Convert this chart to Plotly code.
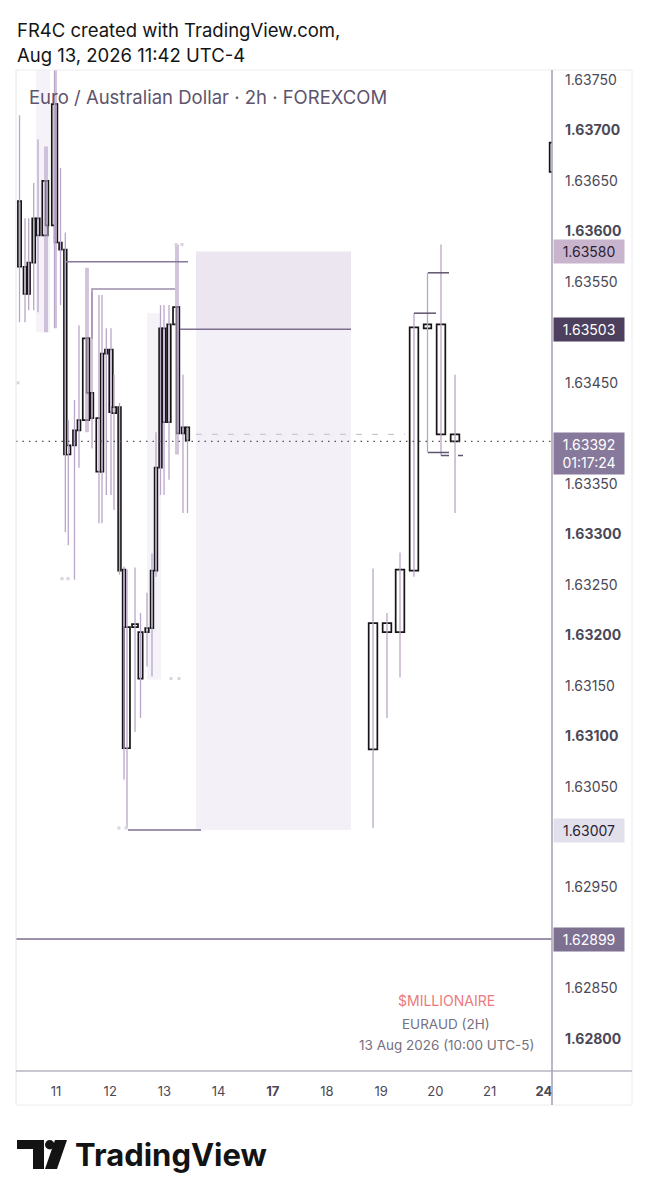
import plotly.graph_objects as go

# ---------------- data ----------------
# x unit: trading-day index (0 = Aug 11, 1 = Aug 12, ... weekend skipped)
day_ticks = [0, 1, 2, 3, 4, 5, 6, 7, 8, 9]
day_labels = ["11", "12", "13", "14", "<b>17</b>", "18", "19", "20", "21", "<b>24</b>"]

candle_x = [-0.673, -0.572, -0.504, -0.411, -0.332, -0.203, -0.166, -0.028, 0.000, 0.083,
            0.172, 0.227, 0.341, 0.424, 0.554, 0.590, 0.664, 0.793, 0.849, 0.928,
            1.015, 1.070, 1.172, 1.255, 1.310, 1.458, 1.559, 1.679, 1.771, 1.845,
            1.928, 1.993, 2.085, 2.214, 2.251, 2.343, 2.426,
            5.849, 6.107, 6.347, 6.605, 6.854, 7.103, 7.362, 9.188]
candle_open = [1.63630, 1.63565, 1.63538, 1.63569, 1.63613, 1.63596, 1.63650, 1.63606, 1.63726, 1.63589,
               1.63582, 1.63379, 1.63388, 1.63403, 1.63413, 1.63494, 1.63440, 1.63415, 1.63362, 1.63479,
               1.63483, 1.63420, 1.63426, 1.63265, 1.63088, 1.63208, 1.63203, 1.63203, 1.63207, 1.63264,
               1.63366, 1.63504, 1.63411, 1.63508, 1.63525, 1.63400, 1.63406,
               1.63087, 1.63212, 1.63203, 1.63264, 1.63504, 1.63508, 1.63399, 1.63659]
candle_close = [1.63565, 1.63538, 1.63569, 1.63613, 1.63596, 1.63650, 1.63606, 1.63726, 1.63589, 1.63582,
                1.63379, 1.63388, 1.63403, 1.63413, 1.63494, 1.63440, 1.63415, 1.63362, 1.63479, 1.63483,
                1.63421, 1.63426, 1.63264, 1.63088, 1.63208, 1.63211, 1.63157, 1.63207, 1.63264, 1.63366,
                1.63504, 1.63411, 1.63508, 1.63525, 1.63400, 1.63406, 1.63393,
                1.63212, 1.63203, 1.63265, 1.63505, 1.63508, 1.63399, 1.63392, 1.63688]
candle_high = [1.63715, 1.63613, 1.63613, 1.63648, 1.63691, 1.63684, 1.63684, 1.63760, 1.63760, 1.63663,
               1.63599, 1.63413, 1.63433, 1.63507, 1.63564, 1.63564, 1.63540, 1.63537, 1.63537, 1.63504,
               1.63504, 1.63458, 1.63430, 1.63268, 1.63265, 1.63267, 1.63222, 1.63242, 1.63281, 1.63401,
               1.63527, 1.63527, 1.63527, 1.63587, 1.63587, 1.63458, 1.63406,
               1.63266, 1.63222, 1.63282, 1.63519, 1.63559, 1.63587, 1.63458, 1.63688]
candle_low = [1.63510, 1.63510, 1.63522, 1.63522, 1.63520, 1.63500, 1.63500, 1.63504, 1.63504, 1.63527,
              1.63302, 1.63289, 1.63255, 1.63366, 1.63401, 1.63401, 1.63385, 1.63311, 1.63311, 1.63339,
              1.63339, 1.63324, 1.63260, 1.63057, 1.63009, 1.63104, 1.63118, 1.63169, 1.63159, 1.63258,
              1.63339, 1.63339, 1.63354, 1.63379, 1.63379, 1.63321, 1.63321,
              1.63009, 1.63118, 1.63158, 1.63258, 1.63381, 1.63378, 1.63321, 1.63659]
candle_w = [0.06, 0.055, 0.05, 0.055, 0.065, 0.10, 0.05, 0.10, 0.05, 0.05,
            0.05, 0.08, 0.055, 0.055, 0.12, 0.05, 0.05, 0.10, 0.05, 0.05,
            0.065, 0.08, 0.05, 0.05, 0.11, 0.11, 0.08, 0.065, 0.05, 0.05,
            0.05, 0.065, 0.065, 0.11, 0.05, 0.05, 0.065,
            0.16, 0.16, 0.16, 0.16, 0.14, 0.16, 0.16, 0.16]

# high / low bracket ticks (x_start, x_end, price)
bracket_x0 = [6.605, 6.863, 6.863, 7.103, 7.417]
bracket_x1 = [7.011, 7.251, 7.251, 7.251, 7.509]
bracket_p = [1.63519, 1.63559, 1.63381, 1.63378, 1.63378]

# horizontal levels
lvl_a = (0.185, 2.435, 1.63570)
lvl_b = (0.664, 2.196, 1.63543, 1.63494)
entry_level = 1.63503
stop_level = 1.63580
target_level = 1.63007
target_line_x = (1.328, 2.675)
entry_line_x = (2.288, 5.443)
position_x = (2.583, 5.443)
support_level = 1.62899
last_price = 1.63392
prev_close_line = (2.583, 6.439, 1.63399)
countdown = "01:17:24"

# faint background bands (x0, x1, p_top, p_bottom)
bands = [(-0.369, -0.111, 1.63760, 1.63500), (1.679, 1.937, 1.63519, 1.63156)]

# tiny markers
mark_x = [-0.701, 0.111, 0.221, 1.162, 1.292, 2.122, 2.269, 2.214, 2.325]
mark_p = [1.63450, 1.63256, 1.63256, 1.63009, 1.63009, 1.63157, 1.63157, 1.63587, 1.63587]

# price axis ticks (levels hidden behind the price pills are left out)
price_ticks = [1.6280, 1.62850, 1.62950, 1.63050, 1.6310, 1.63150, 1.6320, 1.63250,
               1.6330, 1.63350, 1.63450, 1.63550, 1.6360, 1.63650, 1.6370, 1.63750]
price_labels = [("<b>%.5f</b>" % p) if round(p * 10000) % 10 == 0 else "%.5f" % p for p in price_ticks]

# ---------------- layout geometry (page pixels; page body has an 8px margin) ----------------
OFF = 8
W, H = 650 - OFF, 1200 - OFF
PL, PR, PT, PB = 16, 552, 70, 1071          # plot area in page pixels
ML, MT = PL - OFF, PT - OFF
MR, MB = W + OFF - PR, H + OFF - PB
PW, PH = PR - PL, PB - PT


def px(x):
    return (x - PL) / PW


def py(y):
    return 1 - (y - PT) / PH


X_RANGE = [(16 - 56) / 54.2, (552 - 56) / 54.2]
Y_RANGE = [1.627683, 1.637599]
FONT = "Inter, Roboto, sans-serif"

fig = go.Figure()

# wicks
wx, wy = [], []
for x, hi, lo in zip(candle_x, candle_high, candle_low):
    wx += [x, x, None]
    wy += [hi, lo, None]
fig.add_trace(go.Scatter(x=wx, y=wy, mode="lines", line=dict(color="#b9a6c8", width=1.3),
                         hoverinfo="skip", showlegend=False))

# faint markers
fig.add_trace(go.Scatter(x=mark_x, y=mark_p, mode="markers",
                         marker=dict(symbol="square", size=3, color="#d8d3de"),
                         hoverinfo="skip", showlegend=False))

# level lines
LC = "#85789a"
fig.add_trace(go.Scatter(x=[lvl_a[0], lvl_a[1]], y=[lvl_a[2], lvl_a[2]], mode="lines",
                         line=dict(color=LC, width=1.5), showlegend=False, hoverinfo="skip"))
fig.add_trace(go.Scatter(x=[lvl_b[0], lvl_b[0], lvl_b[1]], y=[lvl_b[3], lvl_b[2], lvl_b[2]], mode="lines",
                         line=dict(color="#9d90ad", width=1.5), showlegend=False, hoverinfo="skip"))
fig.add_trace(go.Scatter(x=list(entry_line_x), y=[entry_level, entry_level], mode="lines",
                         line=dict(color="#7d6f8f", width=1.5), showlegend=False, hoverinfo="skip"))
fig.add_trace(go.Scatter(x=list(target_line_x), y=[target_level, target_level], mode="lines",
                         line=dict(color="#7d6f8f", width=1.5), showlegend=False, hoverinfo="skip"))
fig.add_trace(go.Scatter(x=X_RANGE, y=[support_level, support_level], mode="lines",
                         line=dict(color="#7b6d8d", width=1.6), showlegend=False, hoverinfo="skip"))
fig.add_trace(go.Scatter(x=[prev_close_line[0], prev_close_line[1]], y=[prev_close_line[2]] * 2, mode="lines",
                         line=dict(color="#cdc4d6", width=1.2, dash="6px,10px"), showlegend=False, hoverinfo="skip"))
fig.add_trace(go.Scatter(x=X_RANGE, y=[last_price, last_price], mode="lines",
                         line=dict(color="#555060", width=1.2, dash="1.5px,5px"), showlegend=False, hoverinfo="skip"))

# bracket ticks
bx, by = [], []
for a, b, p in zip(bracket_x0, bracket_x1, bracket_p):
    bx += [a, b, None]
    by += [p, p, None]
fig.add_trace(go.Scatter(x=bx, y=by, mode="lines", line=dict(color="#5f5470", width=1.5),
                         showlegend=False, hoverinfo="skip"))

# bodies
base = [min(o, c) for o, c in zip(candle_open, candle_close)]
height = [abs(c - o) for o, c in zip(candle_open, candle_close)]
fig.add_trace(go.Bar(x=candle_x, y=height, base=base, width=candle_w,
                     marker=dict(color="white", line=dict(color="#151515", width=1.7)),
                     showlegend=False, hoverinfo="skip"))

# position box & bands
shapes = []
shapes.append(dict(type="rect", xref="x", yref="y", x0=position_x[0], x1=position_x[1],
                   y0=entry_level, y1=stop_level, fillcolor="#ece6f0", line=dict(width=0), layer="below"))
shapes.append(dict(type="rect", xref="x", yref="y", x0=position_x[0], x1=position_x[1],
                   y0=target_level, y1=entry_level, fillcolor="#f3f1f7", line=dict(width=0), layer="below"))
for x0, x1, p0, p1 in bands:
    shapes.append(dict(type="rect", xref="x", yref="y", x0=x0, x1=x1, y0=p1, y1=p0,
                       fillcolor="#f5f2f8", line=dict(width=0), layer="below"))


def pline(x0, y0, x1, y1, color, width=1):
    shapes.append(dict(type="line", xref="paper", yref="paper", x0=px(x0), x1=px(x1),
                       y0=py(y0), y1=py(y1), line=dict(color=color, width=width)))


# frame
pline(16, 70, 632, 70, "#ececf0")
pline(16, 70, 16, 1105, "#e6e5ea")
pline(632, 70, 632, 1105, "#ececf0")
pline(16, 1105, 632, 1105, "#ececf0")
pline(16, 1071, 632, 1071, "#b9b4c4", 1.5)
pline(552, 70, 552, 1105, "#a69fb2", 1.5)


# TradingView logo icon
def ppath(points):
    d = "M " + " L ".join("%f,%f" % (px(a), py(b)) for a, b in points) + " Z"
    shapes.append(dict(type="path", xref="paper", yref="paper", path=d,
                       fillcolor="#131313", line=dict(width=0)))


ppath([(17, 1140), (44, 1140), (44, 1169), (33, 1169), (33, 1149), (17, 1149)])
ppath([(55, 1140), (67, 1140), (57, 1169), (45, 1169)])
shapes.append(dict(type="circle", xref="paper", yref="paper", x0=px(45), x1=px(54.5),
                   y0=py(1149.5), y1=py(1140), fillcolor="#131313", line=dict(width=0)))

annotations = []


def label(text, x, y, size, color, xanchor="left"):
    annotations.append(dict(text=text, xref="paper", yref="paper", x=px(x), y=py(y),
                            xanchor=xanchor, yanchor="middle", showarrow=False,
                            font=dict(size=size, color=color, family=FONT)))


label("FR4C created with TradingView.com,", 15, 30, 18.5, "#141414")
label("Aug 13, 2026 11:42 UTC-4", 15, 55, 18.5, "#141414")
label("Euro / Australian Dollar · 2h · FOREXCOM", 27, 97, 18.5, "#5e546c")
label("<b>TradingView</b>", 73, 1154, 31, "#131313")
label("$MILLIONAIRE", 446, 1000, 14, "#ec7a7c", "center")
label("EURAUD (2H)", 446, 1024, 13.5, "#76717f", "center")
label("13 Aug 2026 (10:00 UTC-5)", 446, 1045, 13.5, "#76717f", "center")


def pill(text, price, bg, fg, yshift=0, yanchor="middle"):
    annotations.append(dict(text=text, xref="paper", yref="y", x=px(553), y=price,
                            xanchor="left", yanchor=yanchor, yshift=yshift, showarrow=False,
                            width=64, align="center", bgcolor=bg, borderpad=3,
                            font=dict(size=14, color=fg, family=FONT)))


pill("%.5f" % stop_level, stop_level, "#c9b4cd", "#2b2233")
pill("%.5f" % entry_level, entry_level, "#4d3f5e", "#ffffff")
pill("%.5f<br>%s" % (last_price, countdown), last_price, "#87799b", "#ffffff", yshift=9, yanchor="top")
pill("%.5f" % target_level, target_level, "#e2e0eb", "#2b2233")
pill("%.5f" % support_level, support_level, "#7e7091", "#ffffff")

fig.update_layout(
    width=W, height=H, autosize=False,
    margin=dict(l=ML, r=MR, t=MT, b=MB, pad=0),
    paper_bgcolor="white", plot_bgcolor="white",
    barmode="overlay", showlegend=False,
    shapes=shapes, annotations=annotations,
    xaxis=dict(range=X_RANGE, tickvals=day_ticks, ticktext=day_labels, showgrid=False,
               zeroline=False, showline=False, ticks="", ticklabelstandoff=11,
               tickfont=dict(size=13, color="#4a4856", family=FONT)),
    yaxis=dict(range=Y_RANGE, side="right", tickvals=price_ticks, ticktext=price_labels,
               showgrid=False, zeroline=False, showline=False, ticks="", ticklabelstandoff=12,
               tickfont=dict(size=14, color="#4a4856", family=FONT)),
)

fig.write_html("out.html")
